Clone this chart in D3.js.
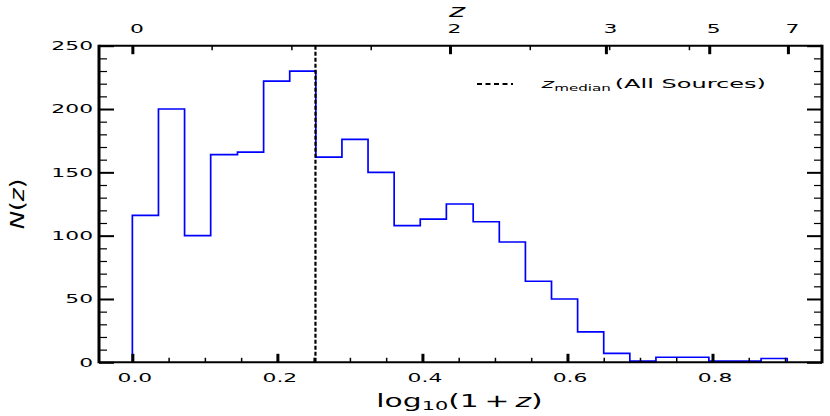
<!DOCTYPE html>
<html>
<head>
<meta charset="utf-8">
<script src="https://cdn.jsdelivr.net/npm/d3@7"></script>
<style>
  html, body { margin: 0; padding: 0; background: #fff; }
  svg { display: block; }
  text { font-family: "DejaVu Sans", sans-serif; fill: #000; }
</style>
</head>
<body>
<svg id="chart" width="830" height="416"></svg>
<script>
// ---------- data ----------
const binEdges = [0.000, 0.036, 0.072, 0.108, 0.145, 0.181, 0.217, 0.253, 0.289, 0.325,
                  0.361, 0.397, 0.433, 0.470, 0.506, 0.542, 0.578, 0.614, 0.650, 0.686,
                  0.722, 0.759, 0.795, 0.831, 0.867, 0.903];
const counts = [116, 200, 100, 164, 166, 222, 230, 162, 176, 150, 108, 113, 125,
                111, 95, 64, 50, 24, 7, 1, 4, 4, 1, 1, 3];
const zMedianLog = 0.2525;
const bottomMajorTicks = [0.0, 0.2, 0.4, 0.6, 0.8];
const bottomMinorTicks = [0.05, 0.1, 0.15, 0.25, 0.3, 0.35, 0.45, 0.5, 0.55, 0.65, 0.7, 0.75, 0.85, 0.9];
const yMajorTicks = [0, 50, 100, 150, 200, 250];
const yMinorTicks = [10, 20, 30, 40, 60, 70, 80, 90, 110, 120, 130, 140, 160, 170, 180, 190, 210, 220, 230, 240];
const topMajorTicks = [0.0, 0.438, 0.653, 0.7955, 0.904];
const topMajorLabels = ["0", "2", "3", "5", "7"];
const topMinorTicks = [0.1093, 0.2193, 0.3287, 0.548, 0.6575, 0.7675];
const legendLabel = { sym: "z", sub: "median", rest: "(All Sources)" };

// ---------- layout ----------
const SX = 1.85; // horizontal stretch of text in the reference
const L = 99, R = 822, T = 45.7, B = 362.3;
const svg = d3.select("#chart");

const x = d3.scaleLinear().domain([-0.046, 0.951]).range([L, R]);
const y = d3.scaleLinear().domain([0, 250]).range([B, T]);

// ---------- histogram ----------
const pts = [[binEdges[0], 0]];
counts.forEach((c, i) => { pts.push([binEdges[i], c]); pts.push([binEdges[i + 1], c]); });
pts.push([binEdges[binEdges.length - 1], 0]);
svg.append("path")
  .attr("d", d3.line().x(d => x(d[0])).y(d => y(d[1]))(pts))
  .attr("fill", "none").attr("stroke", "#0000ff").attr("stroke-width", 1.7);

// ---------- median line ----------
svg.append("line")
  .attr("x1", x(zMedianLog)).attr("x2", x(zMedianLog))
  .attr("y1", T).attr("y2", B)
  .attr("stroke", "#000").attr("stroke-width", 2.2).attr("stroke-dasharray", "4,2");

// ---------- axes ----------
function styleAxis(g, w) {
  g.select(".domain").remove();
  g.selectAll(".tick line").attr("stroke", "#000").attr("stroke-width", w);
}
// bottom
const gbMin = svg.append("g").attr("transform", `translate(0,${B})`)
  .call(d3.axisBottom(x).tickValues(bottomMinorTicks).tickSizeInner(-4.5).tickSizeOuter(0).tickFormat(""));
styleAxis(gbMin, 1.5);
const gb = svg.append("g").attr("transform", `translate(0,${B})`)
  .call(d3.axisBottom(x).tickValues(bottomMajorTicks).tickSizeInner(-8.5).tickSizeOuter(0)
        .tickPadding(11.3).tickFormat(d3.format(".1f")));
styleAxis(gb, 3);
gb.selectAll(".tick text").attr("font-size", 11.8).attr("font-family", "DejaVu Sans")
  .attr("x", 2 / SX).attr("transform", `scale(${SX},1)`);

// top
const gtMin = svg.append("g").attr("transform", `translate(0,${T})`)
  .call(d3.axisTop(x).tickValues(topMinorTicks).tickSizeInner(-4.5).tickSizeOuter(0).tickFormat(""));
styleAxis(gtMin, 1.5);
const gt = svg.append("g").attr("transform", `translate(0,${T})`)
  .call(d3.axisTop(x).tickValues(topMajorTicks).tickSizeInner(-8.5).tickSizeOuter(0)
        .tickPadding(12.5).tickFormat((d, i) => topMajorLabels[i]));
styleAxis(gt, 3);
gt.selectAll(".tick text").attr("font-size", 11.8).attr("font-family", "DejaVu Sans")
  .attr("x", 4 / SX).attr("transform", `scale(${SX},1)`);

// left
const glMin = svg.append("g").attr("transform", `translate(${L},0)`)
  .call(d3.axisLeft(y).tickValues(yMinorTicks).tickSizeInner(-8).tickSizeOuter(0).tickFormat(""));
styleAxis(glMin, 1.2);
const gl = svg.append("g").attr("transform", `translate(${L},0)`)
  .call(d3.axisLeft(y).tickValues(yMajorTicks).tickSizeInner(-15).tickSizeOuter(0).tickPadding(6 / SX));
styleAxis(gl, 2);
gl.selectAll(".tick text").attr("font-size", 11.8).attr("font-family", "DejaVu Sans")
  .attr("transform", `scale(${SX},1)`);

// right
const grMin = svg.append("g").attr("transform", `translate(${R},0)`)
  .call(d3.axisRight(y).tickValues(yMinorTicks).tickSizeInner(-8).tickSizeOuter(0).tickFormat(""));
styleAxis(grMin, 1.2);
const gr = svg.append("g").attr("transform", `translate(${R},0)`)
  .call(d3.axisRight(y).tickValues(yMajorTicks).tickSizeInner(-15).tickSizeOuter(0).tickFormat(""));
styleAxis(gr, 2);

// frame
svg.append("line").attr("x1", L).attr("x2", L).attr("y1", T - 1).attr("y2", B + 1).attr("stroke", "#000").attr("stroke-width", 3);
svg.append("line").attr("x1", R).attr("x2", R).attr("y1", T - 1).attr("y2", B + 1).attr("stroke", "#000").attr("stroke-width", 3);
svg.append("line").attr("x1", L).attr("x2", R).attr("y1", T).attr("y2", T).attr("stroke", "#000").attr("stroke-width", 2);
svg.append("line").attr("x1", L).attr("x2", R).attr("y1", B).attr("y2", B).attr("stroke", "#000").attr("stroke-width", 2);

// ---------- labels ----------
// x label
const xl = svg.append("text").attr("text-anchor", "middle").attr("font-size", 17)
  .attr("transform", `translate(${(L + R) / 2 - 1},406.5) scale(1.75,1)`);
xl.append("tspan").text("log");
xl.append("tspan").attr("font-size", 11.9).attr("dy", 3.7).text("10");
xl.append("tspan").attr("dy", -3.7).text("(1\u2009+\u2009");
xl.append("tspan").attr("font-style", "italic").text("z");
xl.append("tspan").text(")");

// top label
svg.append("text").attr("text-anchor", "middle").attr("font-size", 17.5).attr("font-style", "italic")
  .attr("transform", `translate(457,17) scale(1.75,1)`).text("z");

// y label
const yl = svg.append("text").attr("text-anchor", "middle").attr("font-size", 19)
  .attr("transform", `translate(24,${(T + B) / 2}) rotate(-90) scale(1.3,1)`);
yl.append("tspan").attr("font-style", "italic").text("N");
yl.append("tspan").text("(");
yl.append("tspan").attr("font-style", "italic").text("z");
yl.append("tspan").text(")");

// legend
svg.append("line").attr("x1", 477).attr("x2", 513).attr("y1", 84).attr("y2", 84)
  .attr("stroke", "#000").attr("stroke-width", 1.8).attr("stroke-dasharray", "5,3.5");
const lg = svg.append("text").attr("font-size", 13)
  .attr("transform", `translate(541.5,88) scale(${SX},1)`);
lg.append("tspan").attr("font-style", "italic").text(legendLabel.sym);
lg.append("tspan").attr("font-size", 8.2).attr("dy", 3).text(legendLabel.sub);
lg.append("tspan").attr("dy", -3).attr("dx", 2).text(legendLabel.rest);
</script>
</body>
</html>
